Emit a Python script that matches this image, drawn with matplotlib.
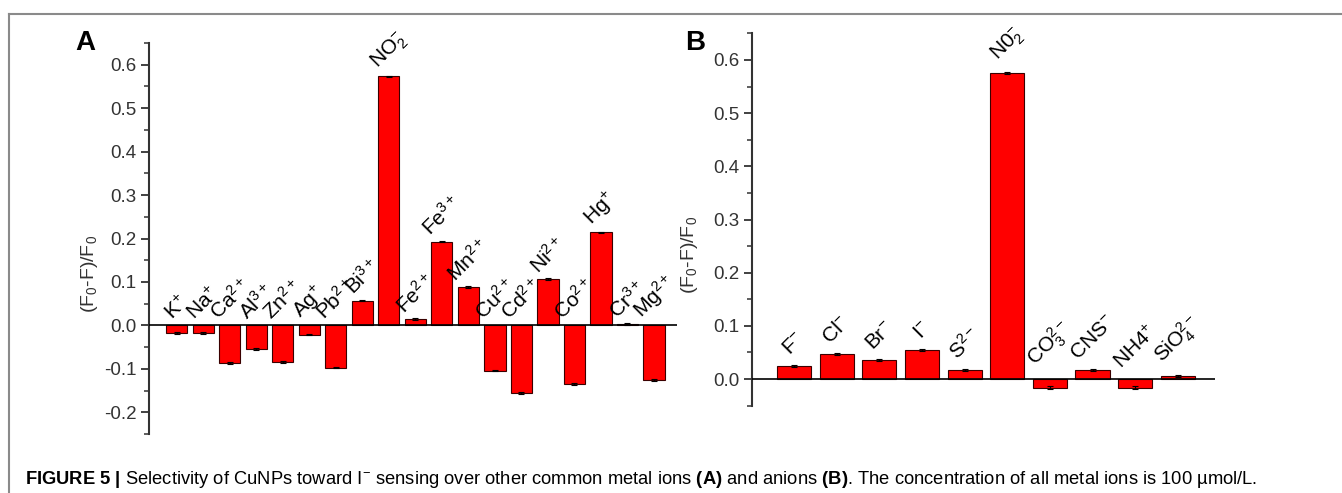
import matplotlib
matplotlib.use("Agg")
import matplotlib.pyplot as plt
from matplotlib.lines import Line2D
from matplotlib.ticker import MultipleLocator, FormatStrFormatter
import numpy as np

plt.rcParams['font.family'] = ['Liberation Sans', 'DejaVu Sans']
plt.rcParams['mathtext.fontset'] = 'custom'
plt.rcParams['mathtext.rm'] = 'Liberation Sans'
plt.rcParams['mathtext.it'] = 'Liberation Sans:italic'
plt.rcParams['mathtext.bf'] = 'Liberation Sans:bold'

# panel A: metal ions
ions_a = ['K$^{+}$', 'Na$^{+}$', 'Ca$^{2+}$', 'Al$^{3+}$', 'Zn$^{2+}$', 'Ag$^{+}$',
          'Pb$^{2+}$', 'Bi$^{3+}$', 'NO$_2^{-}$', 'Fe$^{2+}$', 'Fe$^{3+}$', 'Mn$^{2+}$',
          'Cu$^{2+}$', 'Cd$^{2+}$', 'Ni$^{2+}$', 'Co$^{2+}$', 'Hg$^{+}$', 'Cr$^{3+}$',
          'Mg$^{2+}$']
vals_a = [-0.017, -0.017, -0.086, -0.055, -0.084, -0.021, -0.097, 0.057, 0.573,
          0.015, 0.193, 0.088, -0.104, -0.156, 0.106, -0.135, 0.214, 0.003, -0.126]
errs_a = [0.002] * len(vals_a)

# panel B: anions
ions_b = ['F$^{-}$', 'Cl$^{-}$', 'Br$^{-}$', 'I$^{-}$', 'S$^{2-}$', 'N0$_2^{-}$',
          'CO$_3^{2-}$', 'CNS$^{-}$', 'NH4$^{+}$', 'SiO$_4^{2-}$']
vals_b = [0.025, 0.047, 0.036, 0.055, 0.017, 0.575, -0.016, 0.017, -0.016, 0.006]
errs_b = [0.002] * len(vals_b)

W, H = 1342, 493
fig = plt.figure(figsize=(W / 100, H / 100), dpi=100)

axA = fig.add_axes([149 / W, 1 - 434 / H, (677 - 149) / W, (434 - 43) / H])
axB = fig.add_axes([751.7 / W, 1 - 405.6 / H, (1215 - 751.7) / W, (405.6 - 33.4) / H])

dark = '#333333'


def draw_panel(ax, labels, vals, errs, ylim, xlim, lab_pad, lab_coords):
    x = np.arange(len(vals))
    ax.bar(x, vals, width=0.8, color='#ff0000', edgecolor='#3a0000', linewidth=0.8,
           yerr=errs, error_kw=dict(ecolor='black', capsize=2.5, elinewidth=0.8, capthick=0.8))
    ax.axhline(0, color='black', lw=1.2, zorder=3)
    ax.set_xlim(*xlim)
    ax.set_ylim(*ylim)
    for s in ['top', 'right', 'bottom']:
        ax.spines[s].set_visible(False)
    ax.spines['left'].set_color(dark)
    ax.spines['left'].set_linewidth(1.5)
    ax.set_xticks([])
    ax.yaxis.set_major_locator(MultipleLocator(0.1))
    ax.yaxis.set_minor_locator(MultipleLocator(0.05))
    ax.tick_params(axis='y', which='major', length=6, width=1.3, color=dark,
                   labelsize=13.5, labelcolor=dark, pad=3)
    ax.tick_params(axis='y', which='minor', length=3.5, width=1.1, color=dark)
    ax.yaxis.set_major_formatter(FormatStrFormatter('%.1f'))
    ax.set_ylabel('(F$_0$-F)/F$_0$', fontsize=14, color=dark)
    ax.yaxis.set_label_coords(*lab_coords)
    # labels centred on each bar, just above its top (or above zero)
    for xi, v, lab in zip(x, vals, labels):
        ax.annotate(lab, xy=(xi, max(v, 0)), xytext=(0, lab_pad),
                    textcoords='offset points', rotation=45,
                    ha='center', va='bottom', fontsize=15, color='black')


draw_panel(axA, ions_a, vals_a, errs_a, (-0.25, 0.65), (-1.05, 18.87), 1.5,
           (-0.093, 0.41))
draw_panel(axB, ions_b, vals_b, errs_b, (-0.05, 0.65), (-0.99, 9.87), 5,
           (-0.112, 0.405))

fig.text(85 / W, 1 - 43 / H, 'A', fontsize=20, fontweight='bold', ha='center', va='center')
fig.text(695 / W, 1 - 43 / H, 'B', fontsize=20, fontweight='bold', ha='center', va='center')

# frame lines
fig.add_artist(Line2D([9 / W, 1], [1 - 14 / H, 1 - 14 / H], color='#8a8a8a', lw=1.5))
fig.add_artist(Line2D([9 / W, 9 / W], [0, 1 - 14 / H], color='#8a8a8a', lw=1.5))

caption = (r'$\mathbf{FIGURE\ 5\ |}$ Selectivity of CuNPs toward I$^{-}$ sensing over other '
           r'common metal ions $\mathbf{(A)}$ and anions $\mathbf{(B)}$. '
           r'The concentration of all metal ions is 100 µmol/L.')
fig.text(25 / W, 1 - 479 / H, caption, fontsize=13.2, ha='left', va='center')

fig.savefig('out.png', dpi=100)
